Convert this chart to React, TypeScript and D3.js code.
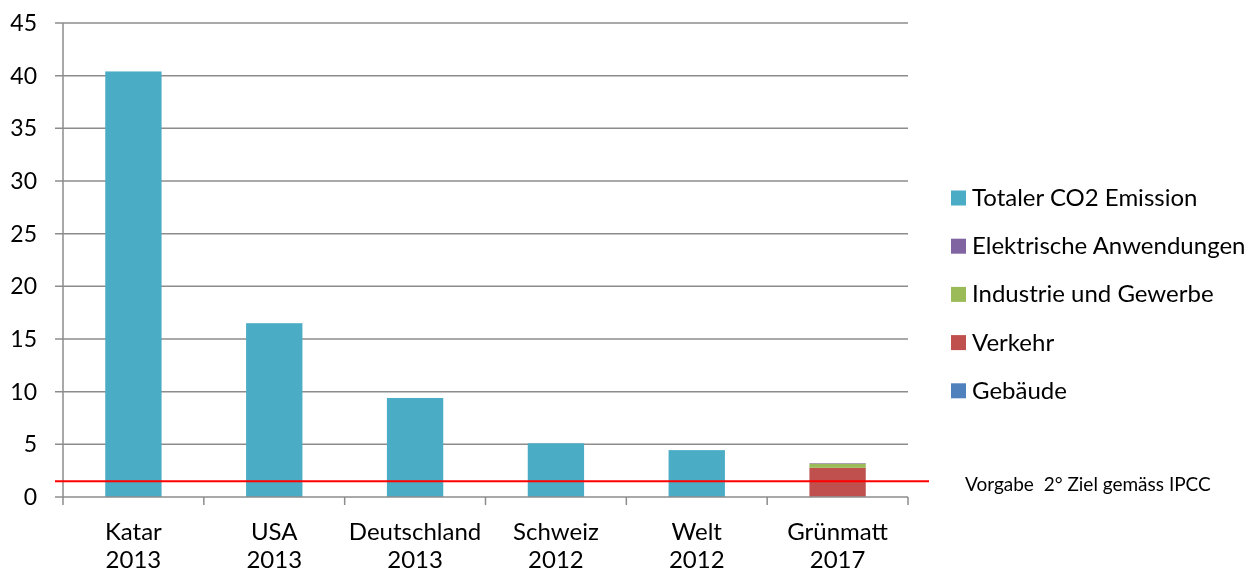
import { useEffect, useRef } from "react"
import * as d3 from "d3"

const categories = ["Katar|2013", "USA|2013", "Deutschland|2013", "Schweiz|2012", "Welt|2012", "Grünmatt|2017"]
const gebaeude = [0, 0, 0, 0, 0, 0.02]
const verkehr = [0, 0, 0, 0, 0, 2.75]
const industrie = [0, 0, 0, 0, 0, 0.4]
const elektrisch = [0, 0, 0, 0, 0, 0.05]
const totalCO2 = [40.4, 16.5, 9.4, 5.1, 4.45, 0]
const yTicks = [0, 5, 10, 15, 20, 25, 30, 35, 40, 45]
const zielValue = 1.5
const zielLabel = "Vorgabe  2° Ziel gemäss IPCC"

const seriesInfo = [
  { key: "gebaeude", label: "Gebäude", color: "#4F81BD", values: gebaeude },
  { key: "verkehr", label: "Verkehr", color: "#C0504D", values: verkehr },
  { key: "industrie", label: "Industrie und Gewerbe", color: "#9BBB59", values: industrie },
  { key: "elektrisch", label: "Elektrische Anwendungen", color: "#8064A2", values: elektrisch },
  { key: "total", label: "Totaler CO2 Emission", color: "#4BACC6", values: totalCO2 },
]

export default function App() {
  const svgRef = useRef<SVGSVGElement>(null)

  useEffect(() => {
    if (!svgRef.current) return
    const svg = d3.select(svgRef.current)
    svg.selectAll("*").remove()

    const font = "Lato, 'Open Sans', sans-serif"
    const left = 63
    const right = 908
    const top = 23
    const bottom = 497
    const grid = "#8C8C8C"

    const rows = categories.map((c, i) => {
      const r: any = { cat: c }
      seriesInfo.forEach((s) => (r[s.key] = s.values[i]))
      return r
    })

    const x = d3.scaleBand().domain(categories).range([left, right]).padding(0)
    const y = d3.scaleLinear().domain([0, 45]).range([bottom, top])
    const barW = x.bandwidth() * 0.4

    const g = svg.append("g")

    g.selectAll(".grid")
      .data(yTicks.slice(1))
      .enter()
      .append("line")
      .attr("x1", left - 8)
      .attr("x2", right)
      .attr("y1", (d) => y(d))
      .attr("y2", (d) => y(d))
      .attr("stroke", grid)
      .attr("stroke-width", 1.5)

    // y axis
    g.append("line")
      .attr("x1", left).attr("x2", left)
      .attr("y1", top).attr("y2", bottom + 8)
      .attr("stroke", grid).attr("stroke-width", 1.5)

    g.selectAll(".ylab")
      .data(yTicks)
      .enter()
      .append("text")
      .attr("x", 37)
      .attr("y", (d) => y(d) + 8)
      .attr("text-anchor", "end")
      .style("font-family", font)
      .style("font-size", "23px")
      .style("fill", "#000")
      .text((d) => d)

    const stack = d3.stack<any>().keys(seriesInfo.map((s) => s.key))
    const stacked = stack(rows)

    stacked.forEach((layer, li) => {
      g.selectAll(".bar-" + li)
        .data(layer)
        .enter()
        .filter((d) => d[1] - d[0] > 0)
        .append("rect")
        .attr("x", (d) => (x(d.data.cat) as number) + (x.bandwidth() - barW) / 2)
        .attr("width", barW)
        .attr("y", (d) => y(d[1]))
        .attr("height", (d) => y(d[0]) - y(d[1]))
        .attr("fill", seriesInfo[li].color)
    })

    // x axis
    g.append("line")
      .attr("x1", left - 8).attr("x2", right)
      .attr("y1", bottom).attr("y2", bottom)
      .attr("stroke", grid).attr("stroke-width", 1.5)

    g.selectAll(".xtick")
      .data(categories)
      .enter()
      .append("line")
      .attr("x1", (d) => (x(d) as number) + x.bandwidth())
      .attr("x2", (d) => (x(d) as number) + x.bandwidth())
      .attr("y1", bottom)
      .attr("y2", bottom + 8)
      .attr("stroke", grid)
      .attr("stroke-width", 1.5)

    const xl = g.selectAll(".xlab")
      .data(categories)
      .enter()
      .append("text")
      .attr("text-anchor", "middle")
      .style("font-family", font)
      .style("font-size", "24px")
      .style("fill", "#000")
    xl.append("tspan")
      .attr("x", (d) => (x(d) as number) + x.bandwidth() / 2)
      .attr("y", 540)
      .text((d) => d.split("|")[0])
    xl.append("tspan")
      .attr("x", (d) => (x(d) as number) + x.bandwidth() / 2)
      .attr("y", 568)
      .text((d) => d.split("|")[1])

    // target line
    g.append("line")
      .attr("x1", left - 8).attr("x2", 929)
      .attr("y1", y(zielValue)).attr("y2", y(zielValue))
      .attr("stroke", "#FF0000").attr("stroke-width", 2)
    g.append("text")
      .attr("x", 965)
      .attr("y", y(zielValue) + 10)
      .style("font-family", font)
      .style("font-size", "19px")
      .style("white-space", "pre")
      .style("fill", "#000")
      .text(zielLabel)

    // legend
    const legendItems = seriesInfo.slice().reverse()
    const lg = g.selectAll(".legend")
      .data(legendItems)
      .enter()
      .append("g")
      .attr("transform", (d, i) => `translate(951, ${198 + i * 48.2})`)
    lg.append("rect")
      .attr("x", 0).attr("y", -7.5)
      .attr("width", 15).attr("height", 15)
      .attr("fill", (d) => d.color)
    lg.append("text")
      .attr("x", 21)
      .attr("y", 8)
      .style("font-family", font)
      .style("font-size", "24px")
      .style("fill", "#000")
      .text((d) => d.label)
  }, [])

  return (
    <div style={{ position: "fixed", top: 0, left: 0 }}>
      <svg ref={svgRef} width={1256} height={573} style={{ display: "block" }}></svg>
    </div>
  )
}
